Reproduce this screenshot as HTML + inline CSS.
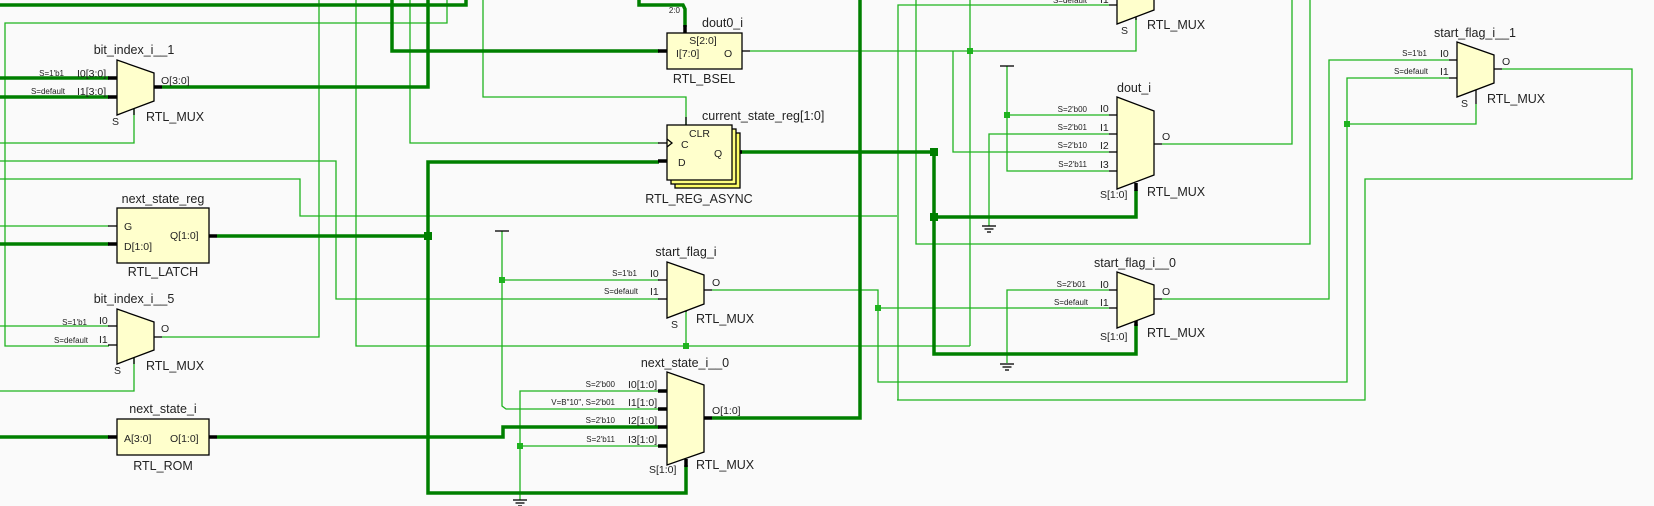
<!DOCTYPE html>
<html><head><meta charset="utf-8"><style>
html,body{margin:0;padding:0;background:#fafafa;}
svg{display:block;}
text{font-family:"Liberation Sans",sans-serif;fill:#222;}
.t{stroke:#1fb31f;stroke-width:1.3;fill:none;}
.k{stroke:#007f00;stroke-width:3.5;fill:none;}
.p{stroke:#000;stroke-width:1.3;fill:none;}
.pk{stroke:#000;stroke-width:3.5;fill:none;}
.b{fill:#ffffcc;stroke:#000;stroke-width:1.3;}
.n{font-size:12.5px;}
.r{font-size:12.5px;}
.pl{font-size:10.5px;}
.s{font-size:8px;fill:#444;}
.dot{fill:#1fb31f;}
.dk{fill:#007f00;}
</style></head><body>
<svg width="1654" height="506" viewBox="0 0 1654 506" xmlns="http://www.w3.org/2000/svg">
<rect width="1654" height="506" fill="#fafafa"/>

<g class="t">
<polyline points="447,0 447,23 5,23 5,346 109,346"/>
<polyline points="319,0 319,337 162,337"/>
<polyline points="356,0 356,346 970,346"/>
<polyline points="410,0 410,143 659,143"/>
<polyline points="483,0 483,97 686,97 686,125"/>
<polyline points="0,143 134,143 134,108"/>
<polyline points="0,161 336,161 336,299 659,299"/>
<polyline points="0,179 300,179 300,216 897,216"/>
<polyline points="0,226 109,226"/>
<polyline points="0,391 134,391 134,357"/>
<polyline points="0,326 109,326"/>
<polyline points="750,51 1136,51 1136,18"/>
<polyline points="898,400 898,5 1109,5"/>
<polyline points="953,51 953,152 1109,152"/>
<polyline points="916,0 916,244 1310,244 1310,0"/>
<polyline points="970,0 970,346"/>
<polyline points="1162,144 1292,144 1292,0"/>
<polyline points="1007,66 1007,171 1109,171"/>
<polyline points="1007,115 1109,115"/>
<polyline points="989,226 989,134 1109,134"/>
<polyline points="712,290 878,290 878,382 1347,382 1347,78 1449,78"/>
<polyline points="878,308 1109,308"/>
<polyline points="1007,363 1007,290 1109,290"/>
<polyline points="1162,299 1329,299 1329,60 1449,60"/>
<polyline points="897,400 1365,400 1365,179 1632,179 1632,69 1502,69"/>
<polyline points="1476,104 1476,124 1347,124"/>
<polyline points="502,231 502,406 506,409 659,409"/>
<polyline points="502,280 659,280"/>
<polyline points="686,311 686,346"/>
<polyline points="520,500 520,391 659,391"/>
<polyline points="520,446 659,446"/>
</g>

<g class="k">
<polyline points="0,5 466,5 466,0"/>
<polyline points="392,0 392,51 659,51"/>
<polyline points="428,0 428,87 162,87"/>
<polyline points="0,78 109,78"/>
<polyline points="0,97 109,97"/>
<polyline points="0,244 109,244"/>
<polyline points="217,236 428,236"/>
<polyline points="659,162 428,162 428,493 686,493 686,465"/>
<polyline points="0,437 109,437"/>
<polyline points="217,437 503,437 503,427 659,427"/>
<polyline points="712,418 860,418 860,0"/>
<polyline points="740,152 934,152"/>
<polyline points="934,152 934,354 1136,354 1136,324"/>
<polyline points="934,217 1136,217 1136,190"/>
<polyline points="639,0 639,5 683,5 685,9 685,27"/>
</g>

<rect class="dk" x="424" y="232" width="8" height="8"/>
<rect class="dk" x="930" y="148" width="8" height="8"/>
<rect class="dk" x="930" y="213" width="8" height="8"/>
<g class="dot">
<rect x="499" y="277" width="6" height="6"/>
<rect x="517" y="443" width="6" height="6"/>
<rect x="683" y="343" width="6" height="6"/>
<rect x="875" y="305" width="6" height="6"/>
<rect x="967" y="48" width="6" height="6"/>
<rect x="1004" y="112" width="6" height="6"/>
<rect x="1344" y="121" width="6" height="6"/>
</g>

<g class="p">
<line x1="495" y1="231" x2="509" y2="231"/>
<line x1="1000" y1="66" x2="1014" y2="66"/>
<line x1="513" y1="500" x2="527" y2="500"/><line x1="515.5" y1="503" x2="524.5" y2="503"/><line x1="518" y1="506" x2="522" y2="506"/>
<line x1="982" y1="226" x2="996" y2="226"/><line x1="984.5" y1="229" x2="993.5" y2="229"/><line x1="987" y1="232" x2="991" y2="232"/>
<line x1="1000" y1="364" x2="1014" y2="364"/><line x1="1002.5" y1="367" x2="1011.5" y2="367"/><line x1="1005" y1="370" x2="1009" y2="370"/>
</g>

<g class="pk">
<line x1="108" y1="78" x2="117" y2="78"/><line x1="108" y1="97" x2="117" y2="97"/><line x1="154" y1="87" x2="162" y2="87"/>
<line x1="108" y1="244" x2="117" y2="244"/><line x1="209" y1="236" x2="217" y2="236"/>
<line x1="108" y1="437" x2="117" y2="437"/><line x1="209" y1="437" x2="217" y2="437"/>
<line x1="658" y1="51" x2="667" y2="51"/><line x1="685" y1="25" x2="685" y2="33"/>
<line x1="658" y1="161" x2="667" y2="161"/><line x1="732" y1="152" x2="742" y2="152"/>
<line x1="658" y1="391" x2="667" y2="391"/><line x1="658" y1="409" x2="667" y2="409"/><line x1="658" y1="427" x2="667" y2="427"/><line x1="658" y1="446" x2="667" y2="446"/>
<line x1="704" y1="418" x2="712" y2="418"/><line x1="686" y1="459" x2="686" y2="467"/>
<line x1="1136" y1="183" x2="1136" y2="191"/><line x1="1136" y1="319" x2="1136" y2="326"/>
</g>
<g class="p">
<line x1="108" y1="226" x2="117" y2="226"/>
<line x1="134" y1="108" x2="134" y2="115"/><line x1="134" y1="357" x2="134" y2="364"/>
<line x1="108" y1="326" x2="117" y2="326"/><line x1="108" y1="345" x2="117" y2="345"/><line x1="154" y1="337" x2="162" y2="337"/>
<line x1="742" y1="51" x2="750" y2="51"/>
<line x1="658" y1="143" x2="667" y2="143"/><line x1="686" y1="117" x2="686" y2="125"/>
<line x1="658" y1="280" x2="667" y2="280"/><line x1="658" y1="299" x2="667" y2="299"/><line x1="704" y1="290" x2="712" y2="290"/><line x1="686" y1="304" x2="686" y2="312"/>
<line x1="1109" y1="5" x2="1117" y2="5"/><line x1="1136" y1="16" x2="1136" y2="20"/>
<line x1="1109" y1="115" x2="1117" y2="115"/><line x1="1109" y1="134" x2="1117" y2="134"/><line x1="1109" y1="152" x2="1117" y2="152"/><line x1="1109" y1="171" x2="1117" y2="171"/><line x1="1154" y1="144" x2="1162" y2="144"/>
<line x1="1109" y1="290" x2="1117" y2="290"/><line x1="1109" y1="308" x2="1117" y2="308"/><line x1="1154" y1="299" x2="1162" y2="299"/>
<line x1="1449" y1="60" x2="1457" y2="60"/><line x1="1449" y1="78" x2="1457" y2="78"/><line x1="1494" y1="69" x2="1502" y2="69"/><line x1="1476" y1="90" x2="1476" y2="104"/>
</g>

<polygon class="b" points="117,60 154,73 154,101 117,115"/>
<polygon class="b" points="117,309 154,322 154,350 117,364"/>
<rect class="b" x="117" y="208" width="92" height="55"/>
<rect class="b" x="117" y="419" width="92" height="36"/>
<rect class="b" x="667" y="33" width="75" height="36"/>
<rect x="675" y="133" width="65" height="55" fill="#ffff66" stroke="#000" stroke-width="1.3"/>
<rect x="671" y="129" width="65" height="55" fill="#ffff80" stroke="#000" stroke-width="1.3"/>
<rect class="b" x="667" y="125" width="65" height="55"/>
<polyline class="p" points="667,139 672,143 667,147"/>
<polygon class="b" points="667,262 704,275 704,304 667,318"/>
<polygon class="b" points="667,372 704,385 704,452 667,465"/>
<polygon class="b" points="1117,-20 1154,-7 1154,10 1117,24"/>
<polygon class="b" points="1117,97 1154,111 1154,175 1117,189"/>
<polygon class="b" points="1117,272 1154,285 1154,314 1117,328"/>
<polygon class="b" points="1457,42 1494,55 1494,83 1457,97"/>

<g class="n" text-anchor="middle">
<text x="134" y="54">bit_index_i__1</text>
<text x="134" y="303">bit_index_i__5</text>
<text x="163" y="203">next_state_reg</text>
<text x="163" y="413">next_state_i</text>
<text x="702" y="27" text-anchor="start">dout0_i</text>
<text x="702" y="120" text-anchor="start">current_state_reg[1:0]</text>
<text x="686" y="256">start_flag_i</text>
<text x="685" y="367">next_state_i__0</text>
<text x="1117" y="92" text-anchor="start">dout_i</text>
<text x="1135" y="267">start_flag_i__0</text>
<text x="1475" y="37">start_flag_i__1</text>
</g>
<g class="r">
<text x="146" y="121">RTL_MUX</text>
<text x="146" y="370">RTL_MUX</text>
<text x="163" y="276" text-anchor="middle">RTL_LATCH</text>
<text x="163" y="470" text-anchor="middle">RTL_ROM</text>
<text x="704" y="83" text-anchor="middle">RTL_BSEL</text>
<text x="699" y="203" text-anchor="middle">RTL_REG_ASYNC</text>
<text x="696" y="323">RTL_MUX</text>
<text x="696" y="469">RTL_MUX</text>
<text x="1147" y="29">RTL_MUX</text>
<text x="1147" y="196">RTL_MUX</text>
<text x="1147" y="337">RTL_MUX</text>
<text x="1487" y="103">RTL_MUX</text>
</g>
<g class="pl">
<text x="77" y="77">I0[3:0]</text><text x="77" y="95">I1[3:0]</text><text x="161" y="84">O[3:0]</text><text x="112" y="125">S</text>
<text x="99" y="324">I0</text><text x="99" y="343">I1</text><text x="161" y="332">O</text><text x="114" y="374">S</text>
<text x="124" y="230">G</text><text x="124" y="250">D[1:0]</text><text x="170" y="239">Q[1:0]</text>
<text x="124" y="442">A[3:0]</text><text x="170" y="442">O[1:0]</text>
<text x="703" y="44" text-anchor="middle">S[2:0]</text><text x="676" y="57">I[7:0]</text><text x="724" y="57">O</text>
<text x="689" y="137">CLR</text><text x="681" y="148">C</text><text x="678" y="166">D</text><text x="714" y="157">Q</text>
<text x="650" y="277">I0</text><text x="650" y="295">I1</text><text x="712" y="286">O</text><text x="671" y="328">S</text>
<text x="628" y="388">I0[1:0]</text><text x="628" y="406">I1[1:0]</text><text x="628" y="424">I2[1:0]</text><text x="628" y="443">I3[1:0]</text>
<text x="712" y="414">O[1:0]</text><text x="649" y="473">S[1:0]</text>
<text x="1121" y="34">S</text><text x="1100" y="3">I1</text>
<text x="1100" y="112">I0</text><text x="1100" y="131">I1</text><text x="1100" y="149">I2</text><text x="1100" y="168">I3</text>
<text x="1162" y="140">O</text><text x="1100" y="198">S[1:0]</text>
<text x="1100" y="288">I0</text><text x="1100" y="306">I1</text><text x="1162" y="295">O</text><text x="1100" y="340">S[1:0]</text>
<text x="1440" y="57">I0</text><text x="1440" y="75">I1</text><text x="1502" y="65">O</text><text x="1461" y="107">S</text>
</g>
<g class="s" text-anchor="end">
<text x="64" y="76">S=1'b1</text><text x="65" y="94">S=default</text>
<text x="87" y="325">S=1'b1</text><text x="88" y="343">S=default</text>
<text x="637" y="276">S=1'b1</text><text x="638" y="294">S=default</text>
<text x="615" y="387">S=2'b00</text><text x="615" y="405">V=B"10", S=2'b01</text><text x="615" y="423">S=2'b10</text><text x="615" y="442">S=2'b11</text>
<text x="1087" y="3">S=default</text>
<text x="1087" y="112">S=2'b00</text><text x="1087" y="130">S=2'b01</text><text x="1087" y="148">S=2'b10</text><text x="1087" y="167">S=2'b11</text>
<text x="1086" y="287">S=2'b01</text><text x="1088" y="305">S=default</text>
<text x="1427" y="56">S=1'b1</text><text x="1428" y="74">S=default</text>
<text x="680" y="13">2:0</text>
</g>
</svg>
</body></html>
